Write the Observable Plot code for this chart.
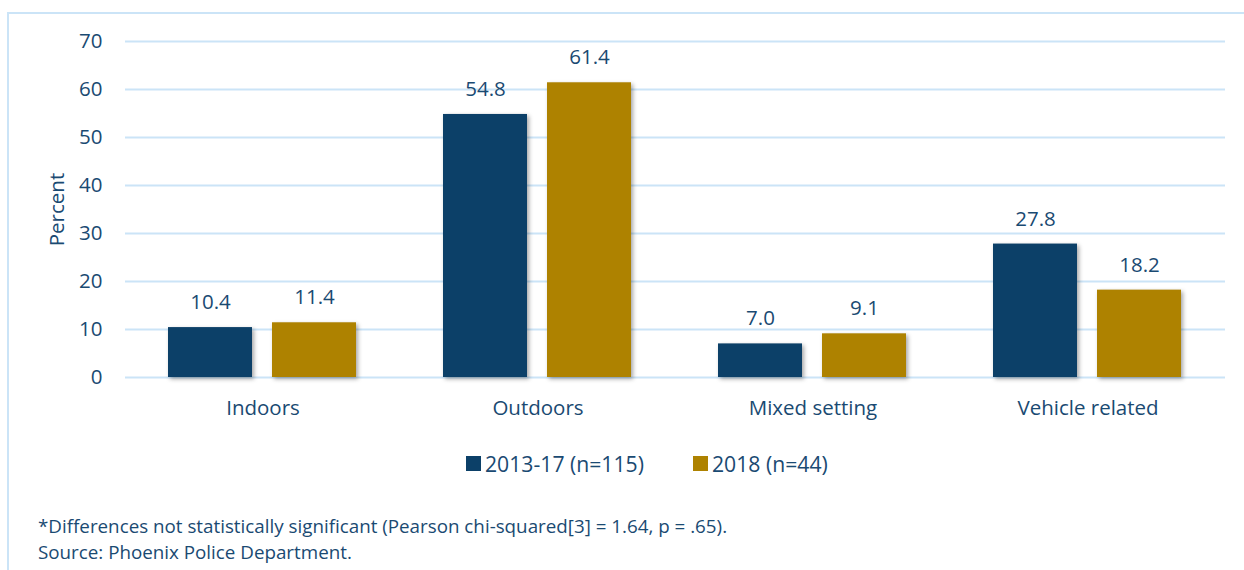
<!DOCTYPE html>
<html>
<head>
<meta charset="utf-8">
<script src="https://cdn.jsdelivr.net/npm/d3@7"></script>
<script src="https://cdn.jsdelivr.net/npm/@observablehq/plot@0.6"></script>
<style>
  html, body { margin: 0; padding: 0; background: #fff; }
  body { width: 1244px; height: 570px; position: relative; overflow: hidden; font-family: "Open Sans", sans-serif; color: #1a4a72; }
  .frame { position: absolute; left: 7px; top: 12px; width: 1300px; height: 600px; border-left: 2px solid #cbe4f7; border-top: 2px solid #cbe4f7; box-sizing: border-box; }
  #chart { position: absolute; left: 0; top: 0; }
  .legend { position: absolute; top: 449px; left: 0; width: 1244px; font-size: 21.2px; }
  .legend .item { position: absolute; top: 0; display: flex; align-items: center; white-space: nowrap; }
  .legend .sw { width: 15px; height: 15px; margin-right: 4px; }
  .caption { position: absolute; left: 38px; font-size: 18.8px; white-space: nowrap; }
  .bars rect { filter: drop-shadow(2px 2px 2px rgba(0,0,0,0.35)); }
</style>
</head>
<body>
<div class="frame"></div>
<div id="chart"></div>
<div class="legend" id="legend"></div>
<div class="caption" style="top:513px">*Differences not statistically significant (Pearson chi-squared[3] = 1.64, p = .65).</div>
<div class="caption" style="top:539px">Source: Phoenix Police Department.</div>
<script>
const categories = ["Indoors", "Outdoors", "Mixed setting", "Vehicle related"];
const series = ["2013-17 (n=115)", "2018 (n=44)"];
const values2013_17 = [10.4, 54.8, 7.0, 27.8];
const values2018 = [11.4, 61.4, 9.1, 18.2];
const yTicks = [0, 10, 20, 30, 40, 50, 60, 70];
const colors = ["#0c4068", "#ae8200"];
const textColor = "#1a4a72";
const gridColor = "#cbe4f7";

const data = [];
categories.forEach((c, i) => {
  data.push({category: c, series: series[0], value: values2013_17[i]});
  data.push({category: c, series: series[1], value: values2018[i]});
});

const chart = Plot.plot({
  width: 1244,
  height: 440,
  marginLeft: 124,
  marginRight: 18,
  marginTop: 41,
  marginBottom: 63,
  style: {fontFamily: "Open Sans, sans-serif", fontSize: "20.5px", color: textColor, background: "transparent"},
  fx: {domain: categories, padding: 0, label: null, axis: null},
  x: {domain: series, paddingInner: 0.19, paddingOuter: 0.407, axis: null},
  y: {domain: [0, 70], label: null},
  color: {domain: series, range: colors},
  marks: [
    Plot.ruleY(yTicks, {stroke: gridColor, strokeWidth: 2}),
    Plot.barY(data, {fx: "category", x: "series", y: "value", fill: "series", className: "bars"}),
    Plot.text(data, {fx: "category", x: "series", y: "value", text: d => d.value.toFixed(1), dy: -25, fill: textColor, fontSize: 20.5}),
    Plot.axisY({ticks: yTicks, tickSize: 0, tickPadding: 23, fill: textColor, fontSize: 20.5, label: "Percent", labelAnchor: "center", labelOffset: 76, labelArrow: "none"}),
    Plot.axisFx({anchor: "bottom", tickSize: 0, tickPadding: 23, fill: textColor, fontSize: 20.5, label: null})
  ]
});
document.getElementById("chart").appendChild(chart);

const legend = document.getElementById("legend");
const legendX = [466, 693];
series.forEach((s, i) => {
  const item = document.createElement("div");
  item.className = "item";
  item.style.left = legendX[i] + "px";
  item.innerHTML = `<span class="sw" style="background:${colors[i]}"></span><span>${s}</span>`;
  legend.appendChild(item);
});
</script>
</body>
</html>
